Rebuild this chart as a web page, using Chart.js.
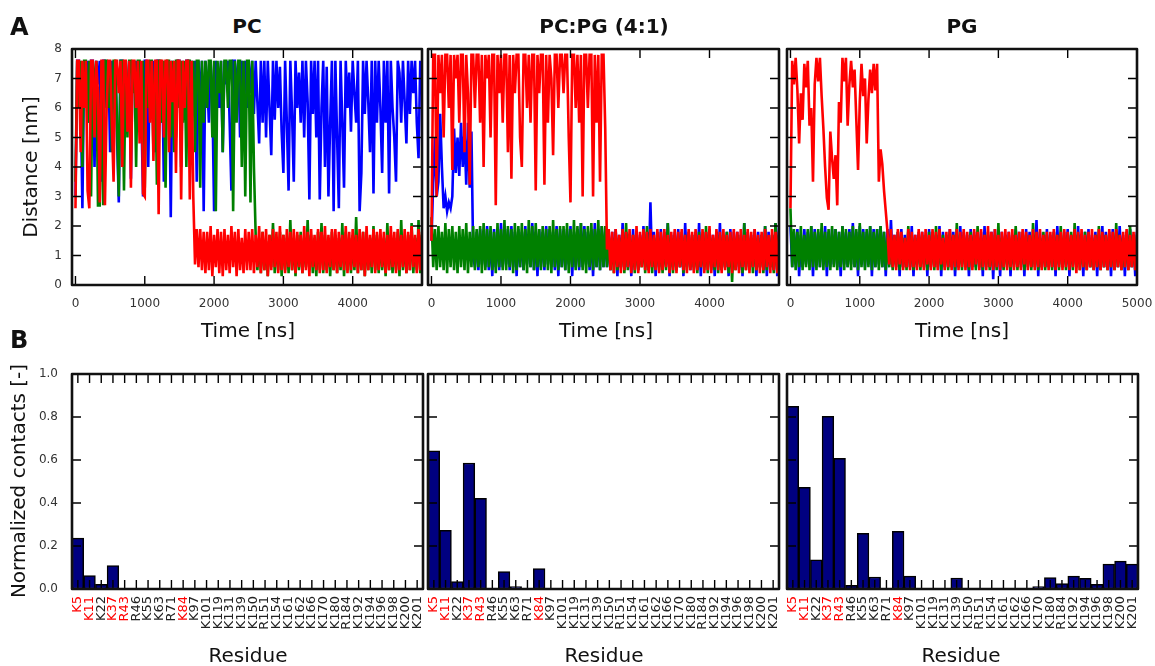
<!DOCTYPE html>
<html><head><meta charset="utf-8">
<script src="https://cdn.jsdelivr.net/npm/chart.js@4.4.1/dist/chart.umd.min.js"></script>
<style>
html,body{margin:0;padding:0;background:#fff;}
#wrap{position:relative;width:1155px;height:666px;overflow:hidden;background:#fff;font-family:"DejaVu Sans",sans-serif;}
canvas{position:absolute;}
.t{position:absolute;white-space:nowrap;line-height:1;color:#111;}
</style></head><body><div id="wrap"></div>
<script>
// ---------- DATA ----------
const timeNs = Array.from({length:201}, (_, i) => i * 25); // sampling grid 0..5000 ns
const distTicks = [0,1,2,3,4,5,6,7,8];
const timeTicksPC = [0,1000,2000,3000,4000];
const timeTicksPG = [0,1000,2000,3000,4000,5000];
const contactTicks = [0,0.2,0.4,0.6,0.8,1.0];

// PC membrane
const pcRed = [
 2.6,7.6,7.6,4.5,7.6,6.0,7.6,3.2,2.6,7.6,7.6,5.0,7.6,6.5,2.8,7.6,7.6,2.7,6.0,7.6,7.6,5.5,3.5,7.6,7.6,
 6.5,7.6,4.0,7.6,7.6,5.2,7.6,3.3,7.6,7.6,6.0,7.6,4.8,7.6,3.1,3.0,7.6,7.6,5.5,7.6,4.2,7.6,7.6,2.4,7.6,
 7.6,5.0,7.6,7.6,4.5,7.6,6.2,7.6,3.8,7.6,7.6,2.9,7.6,6.0,7.6,7.6,2.9,7.6,3.0,0.7,1.9,0.6,1.9,0.5,1.8,
 0.4,1.8,0.5,2.0,0.3,1.7,0.6,1.9,0.4,1.8,0.3,1.9,0.5,1.7,0.4,2.0,0.6,1.8,0.3,1.9,0.5,1.6,0.4,1.9,0.5,
 1.8,0.5,1.9,0.4,1.7,0.6,2.0,0.4,1.8,0.5,1.9,0.3,1.7,0.5,1.9,0.6,1.8,0.4,2.0,0.5,1.7,0.4,1.9,0.6,1.8,
 0.5,1.9,0.4,1.8,0.6,1.7,0.4,2.0,0.5,1.8,0.3,1.9,0.6,1.7,0.5,1.9,0.4,1.8,0.5,2.0,0.4,1.7,0.6,1.9,0.5,
 1.9,0.4,1.8,0.6,1.7,0.5,2.0,0.4,1.8,0.5,1.9,0.6,1.7,0.4,1.9,0.5,1.8,0.3,2.0,0.5,1.7,0.6,1.9,0.4,1.8,
 0.5,1.9,0.6,1.8,0.4,1.7,0.5,2.0,0.6,1.8,0.4,1.9,0.5,1.7,0.6,1.9,0.4,1.8,0.5,2.0,0.6,1.7,0.4,1.9,0.5,
 1.8];
const pcGreen = [
 3.5,7.6,6.0,7.6,4.0,7.6,7.6,5.5,7.6,3.0,7.6,6.5,7.6,2.7,2.7,7.6,2.7,7.6,7.6,6.0,7.6,4.5,7.6,7.6,5.5,
 3.0,7.6,7.6,3.2,7.6,5.0,7.6,7.6,6.5,7.6,4.0,7.6,7.6,5.0,7.6,3.3,7.6,6.0,7.6,7.6,4.5,7.6,3.4,7.6,7.6,
 5.5,7.6,3.3,7.6,7.6,5.0,7.6,4.5,7.6,7.6,6.0,7.6,5.5,7.6,4.0,7.6,7.6,6.0,7.6,4.5,7.6,7.6,3.3,7.6,5.5,
 7.6,6.0,7.6,7.6,5.0,7.6,2.5,7.6,6.5,7.6,4.5,7.6,7.6,6.0,7.6,7.6,2.5,7.6,5.5,7.6,7.6,4.0,7.6,3.0,7.6,
 7.6,2.8,7.6,4.0,1.7,0.5,1.6,0.4,1.8,0.5,1.5,0.3,1.7,0.6,2.1,0.4,1.6,0.5,1.8,0.3,1.7,0.5,1.6,0.4,2.2,
 0.5,1.6,0.3,1.7,0.5,1.8,0.4,1.6,0.6,2.2,0.5,1.7,0.4,1.6,0.3,1.8,0.5,2.1,0.4,1.7,0.5,1.6,0.3,1.8,0.5,
 1.7,0.4,1.6,0.5,2.1,0.3,1.8,0.5,1.6,0.4,1.7,0.5,2.3,0.4,1.6,0.5,1.8,0.3,1.7,0.5,1.6,0.4,2.0,0.5,1.7,
 0.4,1.7,0.5,1.6,0.3,2.1,0.5,1.7,0.4,1.6,0.5,1.8,0.3,2.2,0.5,1.6,0.4,1.7,0.5,2.1,0.4,1.6,0.5,2.2,0.4,
 1.7];
const pcBlue = [
 3.0,7.6,7.6,6.5,2.6,7.6,7.0,7.6,5.5,7.6,7.6,4.0,7.6,6.8,7.6,3.5,7.6,7.6,6.0,7.6,4.5,7.6,7.0,7.6,5.0,
 2.8,7.6,7.6,6.5,7.6,5.5,7.6,3.6,7.6,7.0,7.6,5.5,7.6,6.0,3.0,7.6,7.6,4.0,7.6,6.8,7.6,4.5,7.6,7.6,5.5,
 7.6,3.5,7.6,6.5,7.6,2.3,7.6,7.0,5.0,7.6,7.6,4.0,7.6,6.5,7.6,7.6,4.5,7.6,7.0,7.6,3.5,7.6,6.0,7.6,2.5,
 7.6,7.0,5.5,7.6,6.5,2.5,7.6,7.0,6.0,7.6,4.5,7.6,6.8,7.6,5.5,3.2,7.6,7.6,6.5,7.6,5.0,7.6,7.0,7.6,6.0,
 7.6,6.5,7.6,5.8,7.6,6.2,4.8,7.6,5.5,7.6,5.0,7.6,6.0,4.4,7.6,5.6,7.6,6.0,7.4,5.2,3.8,7.6,5.5,3.2,7.6,
 5.8,3.5,7.6,6.0,7.2,5.5,7.6,5.0,7.6,6.2,2.9,7.6,5.8,7.6,5.0,7.6,2.9,6.0,7.6,4.0,7.4,3.0,5.5,7.6,2.5,
 7.6,5.0,2.6,7.6,5.5,3.3,7.6,6.0,7.2,5.2,7.6,6.5,5.5,7.6,2.5,3.8,7.6,5.8,7.6,6.2,4.5,7.6,3.1,7.6,5.5,
 7.6,6.0,3.8,7.6,5.5,7.6,3.1,7.6,6.0,5.0,3.5,7.6,7.2,5.5,7.6,6.2,4.8,7.6,5.8,7.6,6.5,7.6,5.5,4.3,7.6,
 7.0];

// PC:PG (4:1) membrane
const mixRed = [
 1.5,7.8,7.8,3.0,7.8,6.5,7.8,5.0,7.8,7.8,6.0,7.8,3.9,7.8,7.0,7.8,5.5,7.8,7.8,4.5,7.8,6.5,3.4,7.8,7.8,
 6.0,7.8,7.8,5.5,7.8,4.0,7.8,7.0,7.8,5.0,7.8,7.8,2.7,7.8,6.5,7.8,5.5,7.8,7.8,4.5,7.8,3.6,7.8,6.5,7.8,
 7.8,5.0,4.0,7.8,7.8,6.0,7.8,5.5,7.8,7.8,3.2,7.8,6.5,7.8,7.8,3.4,7.8,5.5,7.8,7.0,4.4,7.8,7.8,6.0,7.8,
 7.8,6.5,7.8,7.8,5.0,2.8,7.8,7.8,6.0,7.8,5.5,7.8,3.0,7.8,7.8,6.0,7.8,7.8,3.0,7.8,5.5,7.8,3.5,7.8,7.8,
 5.3,1.2,1.9,0.5,1.8,0.4,1.9,0.6,1.7,0.4,1.9,0.5,1.8,0.6,1.9,0.4,1.7,0.5,2.0,0.4,1.8,0.6,1.9,0.5,1.8,
 0.4,1.9,0.6,1.7,0.5,1.9,0.4,1.8,0.5,1.9,0.6,1.7,0.4,1.8,0.5,1.9,0.4,1.8,0.6,1.9,0.5,1.7,0.4,1.9,0.5,
 1.8,0.4,1.9,0.5,1.7,0.6,1.9,0.4,1.8,0.5,2.0,0.4,1.7,0.6,1.9,0.5,1.8,0.4,1.9,0.5,1.7,0.6,1.8,0.4,1.9,
 0.5,1.8,0.4,1.9,0.6,1.7,0.5,1.9,0.4,1.8,0.6,1.9,0.5,1.7,0.4,1.8,0.5,1.9,0.6,1.7,0.4,1.9,0.5,1.8,0.4,
 1.8];
const mixGreen = [
 2.3,0.6,1.9,0.5,2.0,0.6,1.8,0.5,2.1,0.4,1.9,0.6,2.0,0.5,1.8,0.4,2.0,0.6,1.9,0.5,2.1,0.4,1.8,0.6,2.0,
 0.5,1.9,0.6,2.0,0.4,2.1,0.5,1.9,0.6,2.0,0.5,1.8,0.4,2.1,0.6,1.9,0.5,2.2,0.5,2.0,0.6,1.9,0.4,2.1,0.5,
 2.0,0.6,2.1,0.5,1.9,0.4,2.2,0.6,2.0,0.5,2.1,0.6,1.9,0.5,2.0,0.6,1.9,0.5,2.0,0.4,2.2,0.6,1.9,0.5,2.0,
 0.6,2.0,0.5,2.1,0.4,1.9,0.6,2.2,0.5,2.0,0.6,2.1,0.5,1.9,0.4,2.0,0.6,2.1,0.5,1.9,0.6,2.2,0.5,2.0,0.6,
 2.0,0.6,1.7,0.5,1.6,0.4,1.8,0.5,1.6,0.6,1.7,0.4,2.1,0.5,1.6,0.6,1.7,0.4,1.8,0.5,1.6,0.6,1.7,0.4,2.0,
 0.5,1.7,0.4,1.6,0.6,1.8,0.5,1.6,0.4,1.7,0.5,2.1,0.6,1.6,0.4,1.7,0.5,1.6,0.6,1.8,0.4,1.7,0.5,1.6,0.6,
 1.7,0.5,1.6,0.4,1.8,0.6,1.6,0.5,2.0,0.4,1.7,0.6,1.6,0.5,1.8,0.4,1.7,0.5,1.6,0.6,1.8,0.4,1.7,0.1,1.6,
 0.5,1.7,0.6,1.6,0.4,2.1,0.5,1.7,0.6,1.6,0.4,1.8,0.5,1.6,0.6,1.7,0.4,2.0,0.5,1.6,0.6,1.7,0.4,2.1,0.5,
 1.7];
const mixBlue = [
 1.5,3.5,5.0,3.0,3.5,5.8,4.0,2.6,3.0,2.5,2.8,2.6,3.0,5.3,3.8,5.0,3.7,5.5,4.0,5.2,3.4,5.5,3.3,5.2,1.0,
 0.6,1.8,0.5,1.9,0.7,1.7,0.6,2.0,0.5,1.8,0.3,1.9,0.6,1.7,0.5,2.1,0.6,1.8,0.7,1.9,0.5,2.0,0.6,1.8,0.3,
 1.9,0.6,1.8,0.5,2.0,0.7,1.7,0.6,2.1,0.5,1.8,0.3,1.9,0.6,1.8,0.5,2.0,0.7,1.9,0.6,1.8,0.5,2.0,0.3,1.9,
 0.6,1.8,0.5,1.9,0.7,2.0,0.3,1.8,0.6,1.9,0.5,2.1,0.6,2.0,0.7,1.8,0.5,1.9,0.3,2.1,0.6,1.9,0.5,2.0,0.6,
 1.8,0.6,1.7,0.5,1.8,0.7,1.9,0.3,1.7,0.6,2.1,0.5,1.8,0.6,1.7,0.3,1.9,0.6,1.8,0.5,1.7,0.7,2.0,0.6,1.8,
 0.5,2.8,0.6,1.8,0.3,1.7,0.6,1.9,0.5,1.8,0.7,2.1,0.3,1.7,0.6,1.8,0.5,1.9,0.6,1.7,0.3,2.1,0.6,1.8,0.5,
 1.7,0.6,1.8,0.5,2.1,0.3,1.7,0.6,1.8,0.7,1.9,0.5,1.7,0.3,1.8,0.6,2.1,0.5,1.7,0.6,1.8,0.3,1.9,0.6,1.8,
 0.6,1.8,0.5,1.7,0.3,2.1,0.6,1.8,0.5,1.7,0.6,1.9,0.3,1.8,0.6,1.7,0.5,2.0,0.3,1.8,0.6,1.7,0.5,2.1,0.3,
 2.0];

// PG membrane
const pgRed = [
 2.6,7.6,6.8,7.7,6.6,4.8,6.5,5.6,7.5,6.7,7.6,5.4,6.0,3.5,6.8,7.7,6.9,7.7,6.4,5.3,4.0,2.95,2.55,5.2,4.3,
 3.6,4.4,2.7,6.2,5.5,7.7,6.9,7.7,5.4,6.8,7.6,6.7,7.3,5.6,3.9,6.2,7.5,6.4,7.0,4.8,6.3,7.3,6.5,7.5,6.6,
 7.5,3.5,4.6,4.1,3.2,2.5,1.8,0.7,1.9,0.6,1.7,0.5,1.9,0.7,1.8,0.5,1.6,0.6,1.9,0.5,1.8,0.6,1.7,0.5,1.9,
 0.6,1.8,0.5,1.9,0.7,1.7,0.5,1.9,0.6,1.8,0.5,1.9,0.7,1.6,0.5,1.8,0.6,1.9,0.5,1.7,0.6,1.9,0.5,1.8,0.6,
 1.9,0.5,1.8,0.6,1.7,0.5,1.9,0.7,1.8,0.5,1.9,0.6,1.7,0.5,2.0,0.6,1.8,0.5,1.9,0.6,1.7,0.5,1.8,0.6,1.9,
 0.5,1.8,0.6,1.9,0.5,1.7,0.6,1.8,0.5,1.9,0.7,1.8,0.5,1.7,0.6,1.9,0.5,1.8,0.6,1.9,0.5,1.7,0.6,1.8,0.5,
 1.8,0.6,1.9,0.5,1.7,0.6,1.8,0.5,1.9,0.6,1.8,0.5,1.7,0.6,1.9,0.4,1.8,0.5,1.9,0.6,1.7,0.5,1.8,0.6,1.9,
 0.5,1.7,0.6,1.9,0.5,1.8,0.6,1.7,0.5,1.9,0.6,1.8,0.5,1.9,0.6,1.7,0.5,1.8,0.6,1.9,0.5,1.7,0.6,1.8,0.5,
 1.8];
const pgGreen = [
 2.6,0.6,1.9,0.5,1.8,0.6,2.0,0.5,1.7,0.6,1.9,0.5,2.0,0.6,1.8,0.5,1.9,0.6,2.1,0.5,1.8,0.6,1.9,0.5,2.0,
 0.6,1.9,0.5,1.8,0.6,2.0,0.5,1.9,0.6,1.8,0.5,2.0,0.6,1.9,0.5,2.1,0.6,1.8,0.5,1.9,0.6,2.0,0.5,1.8,0.6,
 1.9,0.5,2.0,0.6,1.8,0.5,1.6,0.6,1.7,0.5,1.6,0.6,1.8,0.5,1.7,0.6,1.6,0.5,2.0,0.6,1.7,0.5,1.6,0.6,1.7,
 0.5,1.7,0.6,1.6,0.5,1.8,0.6,1.7,0.5,2.0,0.6,1.6,0.5,1.7,0.6,1.6,0.5,1.8,0.6,1.7,0.5,2.1,0.6,1.6,0.5,
 1.7,0.6,1.6,0.5,1.8,0.6,1.7,0.5,2.0,0.6,1.6,0.5,1.7,0.6,1.8,0.5,1.6,0.6,1.7,0.5,2.1,0.6,1.6,0.5,1.7,
 0.6,1.6,0.5,1.7,0.6,2.0,0.5,1.6,0.6,1.8,0.5,1.7,0.6,1.6,0.5,2.1,0.6,1.7,0.5,1.6,0.6,1.8,0.5,1.7,0.6,
 1.6,0.5,1.8,0.6,1.7,0.5,2.0,0.6,1.6,0.5,1.7,0.6,1.8,0.5,2.1,0.6,1.7,0.5,1.6,0.6,1.8,0.5,1.7,0.6,1.6,
 0.5,1.7,0.6,2.0,0.5,1.6,0.6,1.7,0.5,1.8,0.6,1.6,0.5,2.1,0.6,1.7,0.5,1.6,0.6,1.8,0.5,2.0,0.6,1.7,0.5,
 1.7];
const pgBlue = [
 2.0,0.6,1.8,0.7,1.9,0.3,1.7,0.6,1.9,0.7,1.8,0.6,2.0,0.3,1.9,0.7,1.8,0.6,1.9,0.7,2.0,0.3,1.8,0.6,1.9,
 0.7,1.9,0.6,1.8,0.3,2.0,0.7,1.8,0.6,1.9,0.7,2.1,0.6,1.8,0.3,2.0,0.7,1.9,0.6,1.8,0.7,2.0,0.3,1.9,0.6,
 1.9,0.7,2.0,0.6,1.8,0.3,1.9,0.7,2.2,0.6,1.7,0.7,1.8,0.3,1.9,0.6,1.7,0.7,1.8,0.6,2.0,0.3,1.7,0.7,1.8,
 0.6,1.8,0.7,1.7,0.3,1.9,0.7,1.8,0.6,1.7,0.7,2.0,0.3,1.8,0.7,1.7,0.6,1.9,0.7,1.8,0.3,1.7,0.6,2.0,0.7,
 1.8,0.7,1.7,0.3,1.9,0.7,1.8,0.6,1.7,0.7,1.8,0.3,2.0,0.7,1.7,0.6,1.8,0.2,1.9,0.7,1.7,0.3,1.8,0.7,1.7,
 0.7,1.8,0.3,1.7,0.7,1.9,0.6,1.8,0.7,1.7,0.3,1.9,0.7,1.8,0.6,1.7,0.7,2.2,0.3,1.8,0.7,1.7,0.6,1.9,0.7,
 1.7,0.6,1.8,0.3,2.0,0.7,1.7,0.6,1.8,0.7,1.9,0.3,1.7,0.7,1.8,0.6,2.0,0.7,1.7,0.3,1.8,0.7,1.9,0.6,1.7,
 0.7,1.8,0.3,1.7,0.7,2.0,0.6,1.8,0.7,1.7,0.3,1.9,0.7,1.8,0.6,2.0,0.7,1.7,0.3,1.8,0.7,1.9,0.6,1.7,0.3,
 1.8];

const residues = ['K5','K11','K22','K37','R43','R46','K55','K63','R71','K84','K97','K101','K119','K131','K139',
 'K150','R151','K154','K161','K162','K166','K170','K180','R184','K192','K194','K196','K198','K200','K201'];
const redResidues = ['K5','K11','K37','R43','K84'];
const contactsPC  = [0.237,0.062,0.022,0.109,0,0,0.003,0,0,0,0,0,0,0,0.002,0,0,0,0,0,0,0,0,0,0,0,0,0,0,0.003];
const contactsMix = [0.643,0.273,0.034,0.586,0.422,0,0.081,0.011,0,0.095,0,0,0,0,0,0,0,0,0,0,0,0,0,0,0,0,0,0.002,0,0];
const contactsPG  = [0.850,0.473,0.136,0.803,0.608,0.017,0.259,0.056,0,0.268,0.060,0,0,0,0.051,0,0,0,0,0,0,0.011,0.053,0.025,0.060,0.050,0.022,0.116,0.130,0.116];

// ---------- LAYOUT / STYLE ----------
Chart.defaults.font.family = '"DejaVu Sans", sans-serif';
Chart.defaults.font.size = 12;
const wrap = document.getElementById('wrap');
const M = {L:55, T:10, R:25};
const TICK_LEN = 9;

function makeCanvas(plot, B){
  const c = document.createElement('canvas');
  const w = M.L + (plot.r - plot.l) + M.R, h = M.T + (plot.b - plot.t) + B;
  c.width = w; c.height = h;
  c.style.left = (plot.l - M.L) + 'px'; c.style.top = (plot.t - M.T) + 'px';
  c.style.width = w + 'px'; c.style.height = h + 'px';
  wrap.appendChild(c);
  return c;
}
function noPad(s) { s.paddingTop = 0; s.paddingBottom = 0; s.paddingLeft = 0; s.paddingRight = 0; }

const framePlugin = {
  id: 'frame',
  afterDraw(chart) {
    const {ctx, chartArea: a} = chart;
    const x = chart.scales.x, y = chart.scales.y;
    ctx.save();
    ctx.strokeStyle = '#000'; ctx.lineWidth = 1.4;
    ctx.beginPath();
    x.ticks.forEach((t, i) => {
      const px = x.getPixelForTick(i);
      ctx.moveTo(px, a.bottom); ctx.lineTo(px, a.bottom - TICK_LEN);
      ctx.moveTo(px, a.top); ctx.lineTo(px, a.top + TICK_LEN);
    });
    y.ticks.forEach((t, i) => {
      const py = y.getPixelForTick(i);
      ctx.moveTo(a.left, py); ctx.lineTo(a.left + TICK_LEN, py);
      ctx.moveTo(a.right, py); ctx.lineTo(a.right - TICK_LEN, py);
    });
    ctx.stroke();
    ctx.lineWidth = 2.6; ctx.lineJoin = 'round'; ctx.strokeStyle = '#111';
    ctx.strokeRect(a.left, a.top, a.right - a.left, a.bottom - a.top);
    ctx.restore();
  }
};

const baseOpts = () => ({
  responsive: false, animation: false, devicePixelRatio: 1,
  layout: {padding: {left: 0, top: M.T, right: M.R, bottom: 0}},
  plugins: {legend: {display: false}, tooltip: {enabled: false}}
});

function lineChart(plot, series, xTicks, showY) {
  const B = 35;
  const c = makeCanvas(plot, B);
  const o = baseOpts();
  o.scales = {
    x: {type: 'linear', min: -50, max: 5000,
        afterBuildTicks: s => { s.ticks = xTicks.map(v => ({value: v})); },
        afterFit: s => { s.height = B; noPad(s); },
        grid: {display: false, drawTicks: false}, border: {display: false},
        ticks: {padding: 12, color: '#333', autoSkip: false, maxRotation: 0, callback: v => String(v)}},
    y: {type: 'linear', min: 0, max: 8,
        afterBuildTicks: s => { s.ticks = distTicks.map(v => ({value: v})); },
        afterFit: s => { s.width = M.L; noPad(s); },
        grid: {display: false, drawTicks: false}, border: {display: false},
        ticks: {display: showY, padding: 10, color: '#333', callback: v => String(v)}}
  };
  new Chart(c, {
    type: 'line',
    data: {datasets: series.map(s => ({
      data: timeNs.map((t, i) => ({x: t, y: s.values[i]})),
      borderColor: s.color, borderWidth: 2.6, pointRadius: 0, tension: 0, fill: false
    }))},
    options: o, plugins: [framePlugin]
  });
}

function barChart(plot, values, showY) {
  const B = 70;
  const c = makeCanvas(plot, B);
  const o = baseOpts();
  o.scales = {
    x: {type: 'category',
        afterFit: s => { s.height = B; noPad(s); },
        grid: {display: false, drawTicks: false}, border: {display: false},
        ticks: {padding: 7, autoSkip: false, minRotation: 90, maxRotation: 90, font: {size: 13},
                color: ctx => redResidues.includes(residues[ctx.index]) ? '#ff0000' : '#222'}},
    y: {type: 'linear', min: 0, max: 1,
        afterBuildTicks: s => { s.ticks = contactTicks.map(v => ({value: v})); },
        afterFit: s => { s.width = M.L; noPad(s); },
        grid: {display: false, drawTicks: false}, border: {display: false},
        ticks: {display: showY, padding: 14, color: '#333', callback: v => Number(v).toFixed(1)}}
  };
  new Chart(c, {
    type: 'bar',
    data: {labels: residues, datasets: [{data: values, backgroundColor: '#000080', borderColor: '#000',
      borderWidth: 1.5, borderSkipped: false, barPercentage: 1, categoryPercentage: 1}]},
    options: o, plugins: [framePlugin]
  });
}

const RED = '#ff0000', GREEN = '#008000', BLUE = '#0000ff';
const topT = 49, topB = 285, botT = 374, botB = 589;
lineChart({l:72, r:422, t:topT, b:topB}, [{values: pcRed, color: RED}, {values: pcGreen, color: GREEN}, {values: pcBlue, color: BLUE}], timeTicksPC, true);
lineChart({l:428, r:779, t:topT, b:topB}, [{values: mixRed, color: RED}, {values: mixGreen, color: GREEN}, {values: mixBlue, color: BLUE}], timeTicksPC, false);
lineChart({l:787, r:1137, t:topT, b:topB}, [{values: pgRed, color: RED}, {values: pgGreen, color: GREEN}, {values: pgBlue, color: BLUE}], timeTicksPG, false);
barChart({l:72, r:423, t:botT, b:botB}, contactsPC, true);
barChart({l:428, r:779, t:botT, b:botB}, contactsMix, false);
barChart({l:787, r:1138, t:botT, b:botB}, contactsPG, false);

// ---------- TEXT ----------
function text(str, cx, baseline, size, bold, align) {
  const d = document.createElement('div');
  d.className = 't'; d.textContent = str;
  d.style.fontSize = size + 'px'; d.style.fontWeight = bold ? 'bold' : 'normal';
  d.style.top = (baseline - 0.846 * size) + 'px';
  d.style.left = cx + 'px';
  if (align !== 'left') d.style.transform = 'translateX(-50%)';
  wrap.appendChild(d);
}
function vtext(str, baselineX, cy, size) {
  const d = document.createElement('div');
  d.className = 't'; d.textContent = str;
  d.style.fontSize = size + 'px';
  d.style.left = (baselineX - 0.346 * size) + 'px'; d.style.top = cy + 'px';
  d.style.transform = 'translate(-50%,-50%) rotate(-90deg)';
  wrap.appendChild(d);
}
text('A', 10, 35, 24, true, 'left');
text('B', 10, 348, 24, true, 'left');
text('PC', 247, 33, 20, true);
text('PC:PG (4:1)', 604, 33, 20, true);
text('PG', 962, 33, 20, true);
text('Time [ns]', 248, 337, 20);
text('Time [ns]', 606, 337, 20);
text('Time [ns]', 962, 337, 20);
text('Residue', 248, 662, 20);
text('Residue', 604, 662, 20);
text('Residue', 961, 662, 20);
vtext('Distance [nm]', 36.5, 167, 20);
vtext('Normalized contacts [-]', 24.6, 481, 20);
</script></body></html>
